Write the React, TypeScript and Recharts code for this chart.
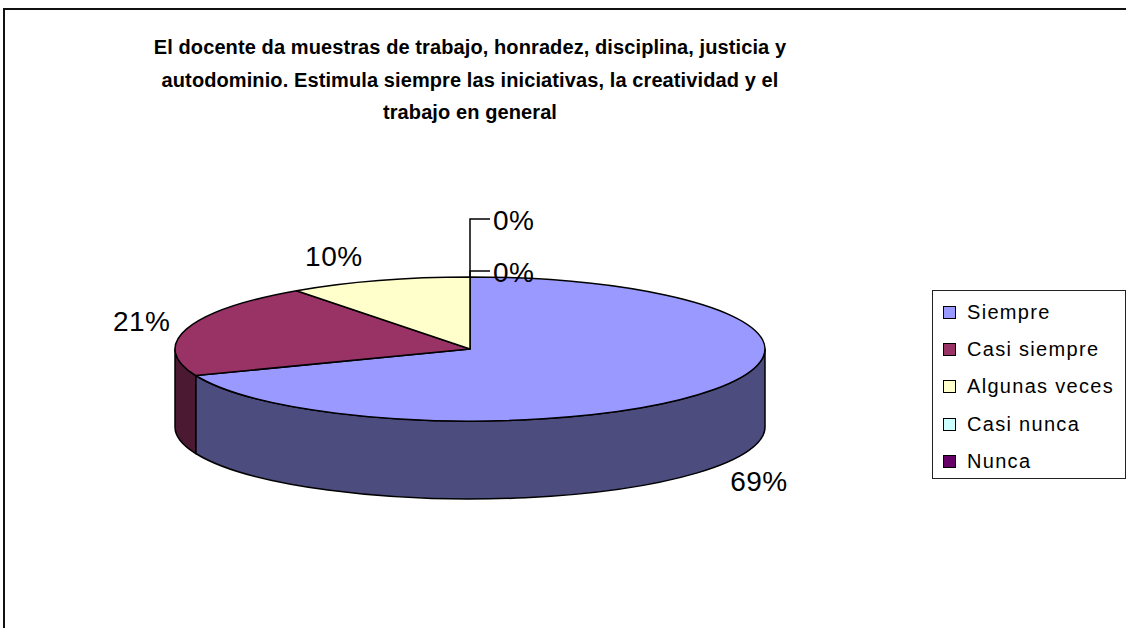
import React from "react";
import { PieChart, Pie, Cell, Legend } from "recharts";

const categories = ["Siempre", "Casi siempre", "Algunas veces", "Casi nunca", "Nunca"];
const percentages = [69, 21, 10, 0, 0];
const topColors = ["#9999FF", "#993366", "#FFFFCC", "#CCFFFF", "#660066"];
const sideColors = ["#4C4C7F", "#4C1933", "#80805F", "#668080", "#330033"];
const titleLines = [
  "El docente da muestras de trabajo, honradez, disciplina, justicia y",
  "autodominio. Estimula siempre las iniciativas, la creatividad y el",
  "trabajo en general",
];

const data = categories.map((name, i) => ({ name, value: percentages[i] }));

const FONT = "'Liberation Sans', Arial, sans-serif";
const TILT = 72 / 295; // vertical squash of the pie top
const DEPTH = 78; // thickness of the pie
const RAD = Math.PI / 180;

function pt(cx: number, cy: number, rx: number, ry: number, a: number) {
  return [cx + rx * Math.cos(a * RAD), cy - ry * Math.sin(a * RAD)];
}

function Slice3D(props: any) {
  const { cx, cy, outerRadius, startAngle, endAngle } = props;
  const name = props.name ?? props.payload?.name;
  const idx = categories.indexOf(name);
  const hi = Math.max(startAngle, endAngle);
  const lo = Math.min(startAngle, endAngle);
  if (hi - lo <= 0.0001) return null;
  const rx = outerRadius;
  const ry = outerRadius * TILT;
  const [x1, y1] = pt(cx, cy, rx, ry, startAngle);
  const [x2, y2] = pt(cx, cy, rx, ry, endAngle);
  const large = hi - lo > 180 ? 1 : 0;
  const sweep = startAngle > endAngle ? 1 : 0;
  const top = `M${cx},${cy} L${x1},${y1} A${rx},${ry} 0 ${large} ${sweep} ${x2},${y2} Z`;

  // front facing wall pieces (angles where the rim faces the viewer)
  const walls: string[] = [];
  for (let k = -2; k <= 1; k++) {
    const a = Math.min(hi, 360 * k);
    const b = Math.max(lo, 360 * k - 180);
    if (a - b > 0.0001) {
      const [ax, ay] = pt(cx, cy, rx, ry, a);
      const [bx, by] = pt(cx, cy, rx, ry, b);
      walls.push(
        `M${ax},${ay} A${rx},${ry} 0 0 1 ${bx},${by} L${bx},${by + DEPTH} A${rx},${ry} 0 0 0 ${ax},${ay + DEPTH} Z`
      );
    }
  }

  return (
    <g>
      {walls.map((d, i) => (
        <path key={i} d={d} fill={sideColors[idx]} stroke="#000" strokeWidth={1.5} strokeLinejoin="round" />
      ))}
      <path d={top} fill={topColors[idx]} stroke="#000" strokeWidth={1.5} strokeLinejoin="round" />
    </g>
  );
}

function renderLabel(props: any) {
  const { cx, cy, midAngle, outerRadius, percent } = props;
  const name = props.name ?? props.payload?.name;
  const index = categories.indexOf(name);
  const rx = outerRadius;
  const ry = outerRadius * TILT;
  const text = `${Math.round(percent * 100)}%`;
  const style = { fontFamily: FONT, fontSize: 28, letterSpacing: 0.5 };
  if (percent === 0) {
    const order = data.slice(0, index).filter((d) => d.value === 0).length;
    const [tx, ty] = pt(cx, cy, rx, ry, midAngle);
    const ly = ty - 6 - order * 52;
    return (
      <g key={`lbl-${index}`}>
        <polyline points={`${tx},${ty} ${tx},${ly} ${tx + 20},${ly}`} fill="none" stroke="#000" strokeWidth={1.5} />
        <text x={tx + 23} y={ly + 1} dominantBaseline="central" fill="#000" style={style}>
          {text}
        </text>
      </g>
    );
  }
  const c = Math.cos(midAngle * RAD);
  const s = Math.sin(midAngle * RAD);
  const [ex, ey0] = pt(cx, cy, rx, ry, midAngle);
  const ey = s < 0 ? ey0 + DEPTH : ey0;
  return (
    <text
      key={`lbl-${index}`}
      x={ex + Math.sign(c) * 45}
      y={ey - s * 25}
      textAnchor="middle"
      dominantBaseline="central"
      fill="#000"
      style={style}
    >
      {text}
    </text>
  );
}

function renderLegend() {
  return (
    <div
      style={{
        boxSizing: "border-box",
        width: 194,
        height: 189,
        border: "1.5px solid #222",
        background: "#fff",
        paddingTop: 3,
      }}
    >
      {categories.map((name, i) => (
        <div key={name} style={{ display: "flex", alignItems: "center", height: 37.2, paddingLeft: 10 }}>
          <span
            style={{
              width: 11,
              height: 11,
              background: topColors[i],
              border: "1.5px solid #000",
              marginRight: 11,
            }}
          />
          <span style={{ fontFamily: FONT, fontSize: 20, letterSpacing: 1.3, color: "#000" }}>{name}</span>
        </div>
      ))}
    </div>
  );
}

export default function App() {
  return (
    <div style={{ position: "absolute", left: 0, top: 0, width: 1126, height: 628, overflow: "hidden", background: "#fff" }}>
      <div
        style={{
          position: "absolute",
          left: 3,
          top: 8,
          width: 1300,
          height: 800,
          border: "2px solid #111",
        }}
      />
      {titleLines.map((line, i) => (
        <div
          key={i}
          style={{
            position: "absolute",
            left: 0,
            width: 940,
            top: 35 + i * 32.5,
            textAlign: "center",
            fontFamily: FONT,
            fontWeight: "bold",
            fontSize: 20,
            letterSpacing: 0.1,
            lineHeight: "24px",
            color: "#000",
          }}
        >
          {line}
        </div>
      ))}
      <div style={{ position: "absolute", left: 0, top: 0 }}>
        <PieChart width={1126} height={628}>
          <Pie
            data={data}
            dataKey="value"
            nameKey="name"
            cx={465}
            cy={344}
            outerRadius={295}
            startAngle={90}
            endAngle={-270}
            isAnimationActive={false}
            shape={Slice3D}
            label={renderLabel}
            labelLine={false}
          >
            {data.map((d, i) => (
              <Cell key={d.name} fill={topColors[i]} />
            ))}
          </Pie>
          <Legend
            content={renderLegend}
            wrapperStyle={{ position: "absolute", left: 932, top: 290, width: 194, height: 189 }}
          />
        </PieChart>
      </div>
    </div>
  );
}
